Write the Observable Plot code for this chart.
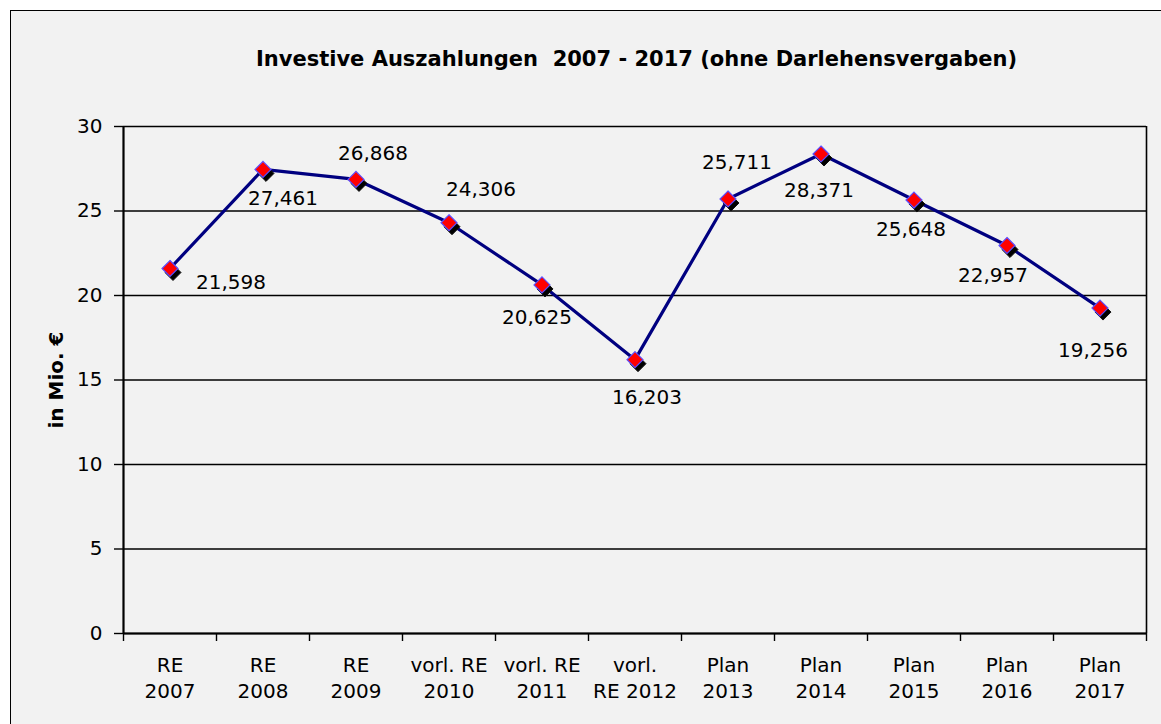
<!DOCTYPE html>
<html>
<head>
<meta charset="utf-8">
<script src="https://cdn.jsdelivr.net/npm/d3@7"></script>
<script src="https://cdn.jsdelivr.net/npm/@observablehq/plot@0.6"></script>
<style>
  html, body { margin: 0; padding: 0; background: #ffffff; }
  body { width: 1161px; height: 724px; overflow: hidden; position: relative; font-family: "DejaVu Sans", Verdana, sans-serif; }
  #frame { position: absolute; left: 10px; top: 10px; width: 1180px; height: 740px; border: 1px solid #000; background: #f2f2f2; box-sizing: border-box; }
  #title { position: absolute; left: 0; top: 49px; width: 1273px; text-align: center; font-weight: bold; font-size: 21px; line-height: 21px; color: #000; white-space: nowrap; }
  #ylabel { position: absolute; left: 56px; top: 380px; transform: translate(-50%, -50%) rotate(-90deg); font-weight: bold; font-size: 20px; line-height: 20px; white-space: nowrap; color: #000; }
  #chart { position: absolute; left: 0; top: 0; }
  #chart svg { background: transparent; overflow: visible; }
</style>
</head>
<body>
<div id="frame"></div>
<div id="title">Investive Auszahlungen&nbsp; 2007 - 2017 (ohne Darlehensvergaben)</div>
<div id="ylabel">in Mio. €</div>
<div id="chart"></div>
<script>
const categories = ["RE\n2007", "RE\n2008", "RE\n2009", "vorl. RE\n2010", "vorl. RE\n2011", "vorl.\nRE 2012", "Plan\n2013", "Plan\n2014", "Plan\n2015", "Plan\n2016", "Plan\n2017"];
const values = [21.598, 27.461, 26.868, 24.306, 20.625, 16.203, 25.711, 28.371, 25.648, 22.957, 19.256];
const yTicks = [0, 5, 10, 15, 20, 25, 30];
// label placement (pixel nudges from each point, as in the original chart)
const labelNudge = [[61, 14], [20, 29], [17, -26], [32, -33], [-5, 33], [12, 38], [9, -36], [-2, 37], [-3, 30], [-14, 30], [-7, 43]];

const data = values.map((v, i) => ({i, cat: categories[i], v}));
const fmt = v => d3.format(".3f")(v).replace(".", ",");
const X = d => d.i + 0.5;

const boundaries = d3.range(categories.length + 1);
const centers = d3.range(categories.length).map(i => i + 0.5);

const labelMarks = data.map((d, k) => Plot.text([d], {
  x: X, y: "v", text: d => fmt(d.v),
  dx: labelNudge[k][0], dy: labelNudge[k][1],
  fontSize: 20, fill: "#000", textAnchor: "middle", lineAnchor: "middle"
}));

const plot = Plot.plot({
  width: 1161,
  height: 724,
  marginLeft: 123,
  marginRight: 15,
  marginTop: 126,
  marginBottom: 91,
  style: {background: "transparent", fontFamily: "DejaVu Sans, Verdana, sans-serif", fontSize: "20px", color: "#000", overflow: "visible"},
  x: {domain: [0, categories.length], axis: null},
  y: {domain: [0, 30], axis: null},
  marks: [
    Plot.gridY(yTicks, {stroke: "#000", strokeOpacity: 1, strokeWidth: 1.4}),
    Plot.axisY(yTicks, {tickSize: 9, tickPadding: 12, fontSize: 20, stroke: "#000", strokeWidth: 1.4, tickFormat: d => String(d), label: null}),
    Plot.axisX(boundaries, {tickSize: 8, stroke: "#000", strokeWidth: 1.4, tickFormat: () => "", label: null}),
    Plot.axisX(centers, {tickSize: 0, tickPadding: 20, fontSize: 20, lineHeight: 1.3, tickFormat: c => categories[Math.floor(c)], label: null}),
    Plot.ruleX([0], {stroke: "#000", strokeWidth: 2.2}),
    Plot.ruleX([categories.length], {stroke: "#000", strokeWidth: 1.6}),
    Plot.ruleY([0], {stroke: "#000", strokeWidth: 2.2}),
    Plot.line(data, {x: X, y: "v", stroke: "#000080", strokeWidth: 3.2}),
    Plot.dot(data, {x: X, y: "v", symbol: "diamond2", r: 7.2, fill: "#000", stroke: "#111", strokeWidth: 1, dx: 3, dy: 4}),
    Plot.dot(data, {x: X, y: "v", symbol: "diamond2", r: 7.2, fill: "#ff0000", stroke: "#5b4dff", strokeWidth: 1.2}),
    ...labelMarks
  ]
});
document.getElementById("chart").appendChild(plot);
</script>
</body>
</html>
